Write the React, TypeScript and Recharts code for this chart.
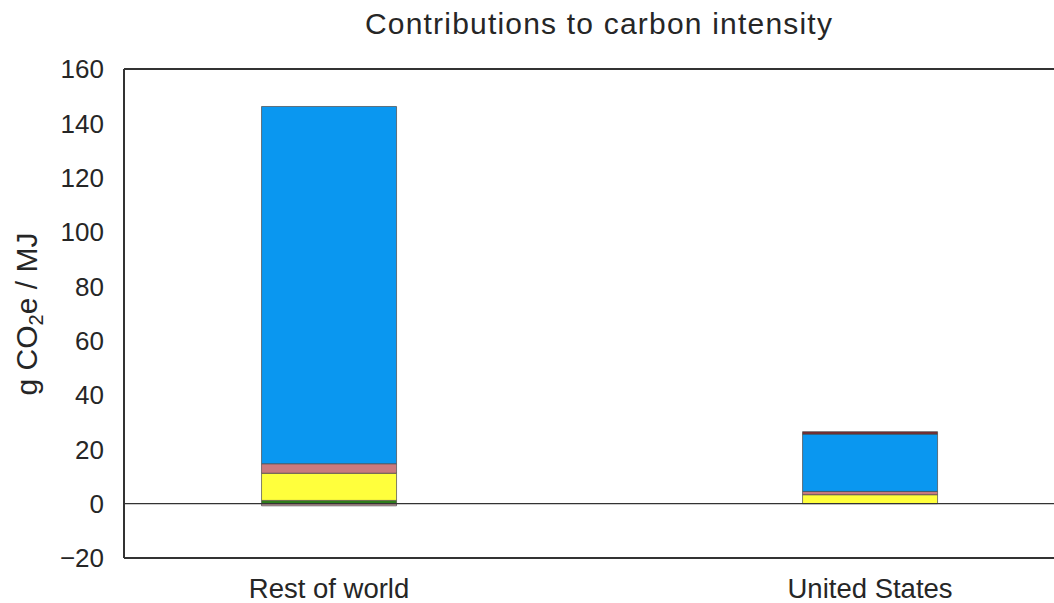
import { BarChart, Bar, XAxis, YAxis, ReferenceLine } from 'recharts';

const regions = ['Rest of world', 'United States'];
const landUse = [-0.8, 0];
const drilling = [1.2, 0];
const production = [10.0, 3.3];
const processing = [3.5, 1.2];
const refining = [131.5, 21.1];
const transport = [0, 0.9];
const yTicks = [-20, 0, 20, 40, 60, 80, 100, 120, 140, 160];

const data = regions.map((name, i) => ({
  pos: i,
  name,
  landUse: landUse[i],
  drilling: drilling[i],
  production: production[i],
  processing: processing[i],
  refining: refining[i],
  transport: transport[i],
}));

const series = [
  { key: 'landUse', color: '#c79a9a' },
  { key: 'drilling', color: '#2f7d1c' },
  { key: 'production', color: '#ffff3c' },
  { key: 'processing', color: '#c97a7e' },
  { key: 'refining', color: '#0a97f0' },
  { key: 'transport', color: '#7a2a2e' },
];

const font = "'Liberation Sans', Arial, sans-serif";
const textColor = '#262626';
const spine = '#333333';

const fmtY = (v: number) => (v < 0 ? '\u2212' + Math.abs(v) : String(v));

function YLabel() {
  return (
    <text
      x={37}
      y={314}
      transform="rotate(-90 37 314)"
      textAnchor="middle"
      fontFamily={font}
      fontSize={30}
      fill={textColor}
    >
      g CO<tspan fontSize={20} dy={6}>2</tspan>
      <tspan dy={-6}>e / MJ</tspan>
    </text>
  );
}

export default function App() {
  return (
    <div style={{ position: 'absolute', left: 0, top: 0, width: 1054, height: 603, background: '#fff' }}>
      <div
        style={{
          position: 'absolute',
          left: 299,
          top: 9,
          width: 600,
          textAlign: 'center',
          fontFamily: font,
          fontSize: 30,
          letterSpacing: 1.2,
          lineHeight: '30px',
          color: textColor,
        }}
      >
        Contributions to carbon intensity
      </div>
      <BarChart
        width={1054}
        height={603}
        data={data}
        stackOffset="sign"
        margin={{ top: 69, right: 0, left: 0, bottom: 0 }}
      >
        <XAxis
          dataKey="pos"
          type="number"
          domain={[-0.379, 1.34]}
          ticks={[0, 1]}
          tickFormatter={(v: number) => regions[v] ?? ''}
          height={45}
          tickLine={false}
          tickSize={0}
          tickMargin={20}
          axisLine={{ stroke: spine, strokeWidth: 2 }}
          tick={{ fontFamily: font, fontSize: 27.5, fill: textColor }}
          allowDataOverflow
        />
        <YAxis
          type="number"
          domain={[-20, 160]}
          ticks={yTicks}
          tickFormatter={fmtY}
          width={124}
          tickLine={false}
          tickSize={0}
          tickMargin={20}
          axisLine={{ stroke: spine, strokeWidth: 2 }}
          tick={{ fontFamily: font, fontSize: 26, fill: textColor }}
          label={<YLabel />}
          allowDataOverflow
        />
        <ReferenceLine y={160} stroke={spine} strokeWidth={2} />
        <ReferenceLine y={0} stroke={spine} strokeWidth={1.3} />
        {series.map((s) => (
          <Bar
            key={s.key}
            dataKey={s.key}
            stackId="a"
            fill={s.color}
            stroke="#4a4a4a"
            strokeOpacity={0.7}
            strokeWidth={1}
            barSize={135}
            isAnimationActive={false}
          />
        ))}
      </BarChart>
    </div>
  );
}
